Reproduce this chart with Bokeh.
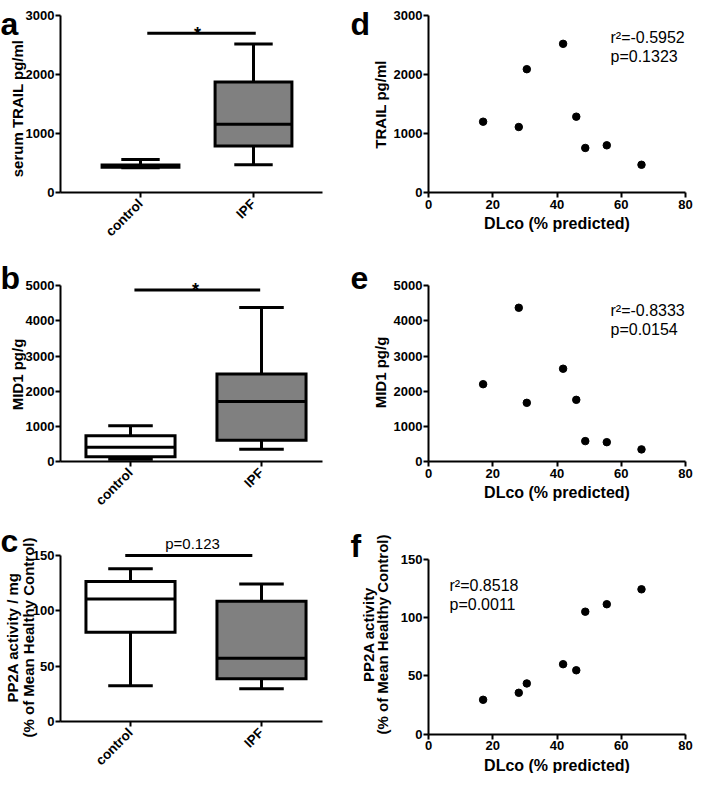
import math
from bokeh.plotting import figure
from bokeh.models import Range1d, FixedTicker, Label
from bokeh.layouts import column, row
from bokeh.embed import file_html
from bokeh.resources import INLINE

FONT = "Liberation Sans"

# ---------------- data ----------------
categories = ["control", "IPF"]
box_fill = ["white", "#808080"]

trail_min = [420, 470]
trail_q1 = [430, 790]
trail_med = [445, 1155]
trail_q3 = [465, 1875]
trail_max = [560, 2515]

mid1_min = [65, 350]
mid1_q1 = [134, 607]
mid1_med = [405, 1710]
mid1_q3 = [732, 2490]
mid1_max = [1017, 4380]

pp2a_min = [32.3, 29.5]
pp2a_q1 = [80.6, 38.6]
pp2a_med = [110.6, 57.2]
pp2a_q3 = [126.6, 108.6]
pp2a_max = [138, 124.3]

dlco = [17.0, 28.1, 30.6, 41.9, 46.0, 48.8, 55.5, 66.3]
trail_ipf = [1200, 1110, 2090, 2520, 1285, 755, 800, 470]
mid1_ipf = [2200, 4375, 1670, 2640, 1755, 580, 550, 345]
pp2a_ipf = [29.5, 35.5, 43.5, 60.0, 54.8, 105.0, 111.4, 124.2]

trail_ticks = [0, 1000, 2000, 3000]
mid1_ticks = [0, 1000, 2000, 3000, 4000, 5000]
pp2a_ticks = [0, 50, 100, 150]
dlco_ticks = [0, 20, 40, 60, 80]

sig_a = [1.06, 2.02, 2700]
sig_b = [1.03, 1.99, 4880]
sig_c = [0.96, 1.93, 150]

ylab_a = ["serum TRAIL pg/ml"]
ylab_b = ["MID1 pg/g"]
ylab_c = ["PP2A activity / mg", "(% of Mean Healthy Control)"]
ylab_d = ["TRAIL pg/ml"]
ylab_e = ["MID1 pg/g"]
ylab_f = ["PP2A activity", "(% of Mean Healthy Control)"]
xlab_scatter = "DLco (% predicted)"

stats_d = ["r\u00b2=-0.5952", "p=0.1323"]
stats_e = ["r\u00b2=-0.8333", "p=0.0154"]
stats_f = ["r\u00b2=0.8518", "p=0.0011"]

BOX_W = 0.68


class Panel:
    """Figure whose frame fills the whole canvas; page pixel <-> data helpers."""

    def __init__(self, width, height, fig_abs, xmap, ymap, yaxis_top, xaxis_px):
        fx, fy = fig_abs
        self.fx, self.fy = fx, fy
        v0, p0, v1, p1 = xmap
        self.sx = (p1 - p0) / (v1 - v0)
        self.x0 = v0 + (fx - p0) / self.sx
        x1 = v0 + (fx + width - p0) / self.sx
        v0, p0, v1, p1 = ymap
        self.sy = (p0 - p1) / (v1 - v0)
        self.y1 = v0 + (p0 - fy) / self.sy
        y0 = v0 - (fy + height - p0) / self.sy
        p = figure(width=width, height=height, title=None,
                   x_range=Range1d(self.x0, x1), y_range=Range1d(y0, self.y1),
                   output_backend="svg", toolbar_location=None,
                   min_border_left=0, min_border_right=0,
                   min_border_top=0, min_border_bottom=0)
        p.outline_line_color = None
        p.xgrid.visible = False
        p.ygrid.visible = False
        xa, ya = p.xaxis[0], p.yaxis[0]
        for ax in (xa, ya):
            ax.axis_line_width = 2
            ax.axis_line_color = "black"
            ax.major_tick_line_width = 2
            ax.major_tick_line_color = "black"
            ax.major_tick_in = 0
            ax.major_tick_out = 5
            ax.minor_tick_line_color = None
            ax.major_label_text_font = FONT
            ax.major_label_text_font_style = "bold"
            ax.major_label_text_font_size = "13px"
            ax.major_label_text_color = "black"
            ax.axis_label_text_font = FONT
            ax.axis_label_text_font_style = "bold"
            ax.axis_label_text_color = "black"
        ya.major_label_standoff = 1
        xa.axis_label_text_font_size = "16px"
        xa.major_label_standoff = 2
        xa.axis_label_standoff = 3
        xl, xr = xaxis_px
        ya.fixed_location = self.dx(xl)
        ya.bounds = (0, yaxis_top)
        xa.fixed_location = 0
        xa.bounds = (self.dx(xl), self.dx(xr))
        self.p = p

    def dx(self, ax):
        return self.x0 + (ax - self.fx) / self.sx

    def dy(self, ay):
        return self.y1 - (ay - self.fy) / self.sy

    def text(self, ax, ay, text, size, bold=False, align="left",
             baseline="alphabetic", angle=0.0):
        self.p.add_layout(Label(x=self.dx(ax), y=self.dy(ay), text=text,
                                text_font=FONT, text_font_size=size,
                                text_font_style="bold" if bold else "normal",
                                text_align=align, text_baseline=baseline,
                                angle=angle, text_color="black"))

    def ylabel(self, lines, centers_x, center_y):
        for line, cx in zip(lines, centers_x):
            self.text(cx, center_y, line, "15px", bold=True, align="center",
                      baseline="middle", angle=math.pi / 2)


def box_panel(letter, letter_xy, ylabel, ylabel_x, ylabel_y, mins, q1s, meds, q3s, maxs,
              yticks, ytop, height, fig_y, xmap, ymap, sig, sig_text, sig_xy, sig_bold, sig_size):
    pn = Panel(347, height, (8, fig_y), xmap, ymap, ytop, (68, 330))
    p = pn.p
    xs = [i + 1 for i in range(len(categories))]
    p.yaxis[0].ticker = FixedTicker(ticks=yticks)
    p.xaxis[0].ticker = FixedTicker(ticks=xs)
    p.xaxis[0].major_label_overrides = {x: c for x, c in zip(xs, categories)}
    p.xaxis[0].major_label_orientation = math.pi / 4
    p.xaxis[0].major_label_standoff = 4
    p.xaxis[0].major_label_text_font_size = "13.5px"

    left = [x - BOX_W / 2 for x in xs]
    right = [x + BOX_W / 2 for x in xs]
    cl = [x - BOX_W / 4 for x in xs]
    cr = [x + BOX_W / 4 for x in xs]
    p.segment(x0=xs, y0=q3s, x1=xs, y1=maxs, line_width=3, line_color="black")
    p.segment(x0=xs, y0=q1s, x1=xs, y1=mins, line_width=3, line_color="black")
    p.segment(x0=cl, y0=maxs, x1=cr, y1=maxs, line_width=3, line_color="black")
    p.segment(x0=cl, y0=mins, x1=cr, y1=mins, line_width=3, line_color="black")
    p.quad(left=left, right=right, bottom=q1s, top=q3s, fill_color=box_fill,
           line_color="black", line_width=3, line_join="miter")
    p.segment(x0=left, y0=meds, x1=right, y1=meds, line_width=3, line_color="black")
    p.segment(x0=[sig[0]], y0=[sig[2]], x1=[sig[1]], y1=[sig[2]],
              line_width=3, line_color="black")
    pn.text(sig_xy[0], sig_xy[1], sig_text, sig_size, bold=sig_bold, align="center")
    pn.text(letter_xy[0], letter_xy[1], letter, "32px", bold=True)
    pn.ylabel(ylabel, ylabel_x, ylabel_y)
    return p


def scatter_panel(letter, letter_xy, ylabel, ylabel_x, ylabel_y, yvals, yticks, ytop,
                  height, fig_y, ymap, stats, stats_xy):
    pn = Panel(346, height, (355, fig_y), (0, 436, 80, 693), ymap, ytop, (436, 693))
    p = pn.p
    p.yaxis[0].ticker = FixedTicker(ticks=yticks)
    p.xaxis[0].ticker = FixedTicker(ticks=dlco_ticks)
    p.xaxis[0].axis_label = xlab_scatter
    p.scatter(x=dlco, y=yvals, size=7.5, fill_color="black", line_color="black")
    pn.text(stats_xy[0], stats_xy[1], stats[0], "16px")
    pn.text(stats_xy[0], stats_xy[1] + 19, stats[1], "16px")
    pn.text(letter_xy[0], letter_xy[1], letter, "32px", bold=True)
    pn.ylabel(ylabel, ylabel_x, ylabel_y)
    return p


pa = box_panel("a", (8, 31), ylab_a, [25], 116,
               trail_min, trail_q1, trail_med, trail_q3, trail_max, trail_ticks, 3000,
               248, 8, (1, 148, 2, 261), (0, 200, 3000, 23),
               sig_a, "*", (205, 41), True, "18px")
pb = box_panel("b", (8, 285), ylab_b, [25], 382,
               mid1_min, mid1_q1, mid1_med, mid1_q3, mid1_max, mid1_ticks, 5000,
               262, 256, (1, 138, 2, 269), (0, 469, 5000, 293.3),
               sig_b, "*", (203, 297), True, "18px")
pc = box_panel("c", (8, 548), ylab_c, [20, 36], 645,
               pp2a_min, pp2a_q1, pp2a_med, pp2a_q3, pp2a_max, pp2a_ticks, 150,
               263, 518, (1, 138, 2, 269), (0, 729, 150, 563),
               sig_c, "p=0.123", (200, 551), False, "15px")

pd = scatter_panel("d", (358, 31), ylab_d, [388], 112, trail_ipf, trail_ticks, 3000,
                   248, 8, (0, 200, 3000, 23), stats_d, (618, 45))
pe = scatter_panel("e", (358, 285), ylab_e, [388], 380, mid1_ipf, mid1_ticks, 5000,
                   262, 256, (0, 469, 5000, 293.3), stats_e, (618, 318))
pf = scatter_panel("f", (358, 553), ylab_f, [376, 390], 642,
                   pp2a_ipf, pp2a_ticks, 150,
                   263, 518, (0, 741.7, 150, 566.7), stats_f, (457, 593))

layout = column(row(pa, pd), row(pb, pe), row(pc, pf))
open("out.html", "w").write(file_html(layout, INLINE))
